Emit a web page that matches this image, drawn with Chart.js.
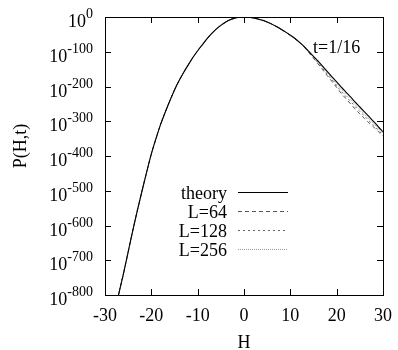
<!DOCTYPE html>
<html>
<head>
<meta charset="utf-8">
<script src="https://cdn.jsdelivr.net/npm/chart.js@4.4.1/dist/chart.umd.min.js"></script>
<style>
  body { margin: 0; background: #fff; }
  #wrap { width: 398px; height: 350px; }
</style>
</head>
<body>
<div id="wrap"><canvas id="myChart" width="398" height="350"></canvas></div>
<script>
// H values and log10 P(H,t)
const hValues = [-28, -27, -26, -25, -24, -23, -22, -21, -20, -19, -18, -17, -16, -15, -14, -13, -12, -11, -10, -9,
  -8, -7, -6, -5, -4, -3, -2, -1, 0, 1, 2, 3, 4, 5, 6, 7, 8, 9, 10, 11,
  12, 13, 14, 15, 16, 17, 18, 19, 20, 21, 22, 23, 24, 25, 26, 27, 28, 29, 30];

const theory = [-855, -795, -738, -676, -614, -556, -500, -446, -394, -350, -309, -274, -241, -210, -183, -159, -137, -116, -97, -80,
  -63, -48, -35, -24, -15, -8, -3.2, -0.8, 0, -0.6, -2.5, -5.5, -9.5, -14.5, -20.5, -27.5, -35, -43.5, -52.5, -62,
  -73, -85, -99, -113, -127, -142, -157, -172, -187, -202, -216, -230, -245, -259, -273, -287, -301, -316, -330];

const l64 = [-855, -795, -738, -676, -614, -556, -500, -446, -394, -350, -309, -274, -241, -210, -183, -159, -137, -116, -97, -80,
  -63, -48, -35, -24, -15, -8, -3.2, -0.8, 0, -0.6, -2.5, -5.5, -9.5, -14.5, -20.5, -27.5, -35, -43.5, -52.5, -62,
  -74, -87, -103, -119, -135, -152, -169, -186, -203, -220, -235, -250, -265, -279, -292, -305, -317, -330, -343];

const l128 = [-855, -795, -738, -676, -614, -556, -500, -446, -394, -350, -309, -274, -241, -210, -183, -159, -137, -116, -97, -80,
  -63, -48, -35, -24, -15, -8, -3.2, -0.8, 0, -0.6, -2.5, -5.5, -9.5, -14.5, -20.5, -27.5, -35, -43.5, -52.5, -62,
  -73.5, -86, -102, -117, -132, -148, -165, -181, -198, -214, -229, -243, -258, -272, -285, -299, -312, -326, -339];

const l256 = [-855, -795, -738, -676, -614, -556, -500, -446, -394, -350, -309, -274, -241, -210, -183, -159, -137, -116, -97, -80,
  -63, -48, -35, -24, -15, -8, -3.2, -0.8, 0, -0.6, -2.5, -5.5, -9.5, -14.5, -20.5, -27.5, -35, -43.5, -52.5, -62,
  -73, -85, -100, -115, -130, -145, -161, -177, -193, -208, -223, -237, -252, -266, -280, -293, -307, -321, -335];

const xTicks = [-30, -20, -10, 0, 10, 20, 30];
const yExponents = [0, -100, -200, -300, -400, -500, -600, -700, -800];

const seriesNames = ['theory', 'L=64', 'L=128', 'L=256'];

const FONT = '"Liberation Serif", "Times New Roman", serif';

function pts(ys) {
  return hValues.map((h, i) => ({ x: h, y: ys[i] }));
}

// frame, ticks, labels and the legend are drawn gnuplot style
const gnuplotFrame = {
  id: 'gnuplotFrame',
  afterDatasetsDraw(chart) {
    const ctx = chart.ctx;
    const a = chart.chartArea;
    const xs = chart.scales.x;
    const ys = chart.scales.y;
    ctx.save();
    ctx.strokeStyle = '#000';
    ctx.lineWidth = 1;
    ctx.setLineDash([]);
    ctx.strokeRect(a.left + 0.5, a.top + 0.5, a.right - a.left, a.bottom - a.top);

    // tick marks, inside, on all four sides
    ctx.beginPath();
    xTicks.forEach(v => {
      const px = Math.round(xs.getPixelForValue(v)) + 0.5;
      ctx.moveTo(px, a.bottom); ctx.lineTo(px, a.bottom - 6);
      ctx.moveTo(px, a.top); ctx.lineTo(px, a.top + 6);
    });
    yExponents.forEach(v => {
      const py = Math.round(ys.getPixelForValue(v)) + 0.5;
      ctx.moveTo(a.left, py); ctx.lineTo(a.left + 6, py);
      ctx.moveTo(a.right, py); ctx.lineTo(a.right - 6, py);
    });
    ctx.stroke();

    ctx.fillStyle = '#000';
    // x tick labels
    ctx.font = '18px ' + FONT;
    ctx.textAlign = 'center';
    ctx.textBaseline = 'alphabetic';
    xTicks.forEach(v => {
      ctx.fillText(String(v), xs.getPixelForValue(v), 321);
    });

    // y tick labels 10^n
    yExponents.forEach(v => {
      const py = ys.getPixelForValue(v);
      ctx.font = '14px ' + FONT;
      const sup = String(v);
      const supW = ctx.measureText(sup).width;
      const right = 93;
      ctx.textAlign = 'left';
      ctx.fillText(sup, right - supW, py + 1);
      ctx.font = '18px ' + FONT;
      const baseW = ctx.measureText('10').width;
      ctx.fillText('10', right - supW - baseW, py + 10);
    });

    // axis titles
    ctx.font = '18px ' + FONT;
    ctx.textAlign = 'center';
    ctx.fillText('H', (a.left + a.right) / 2, 348);
    ctx.save();
    ctx.translate(26, 146);
    ctx.rotate(-Math.PI / 2);
    ctx.fillText('P(H,t)', 0, 0);
    ctx.restore();

    // annotation
    ctx.textAlign = 'left';
    ctx.fillText('t=1/16', 313, 53);

    // legend
    const rows = [199, 218, 237, 256];
    chart.data.datasets.forEach((ds, i) => {
      ctx.font = '18px ' + FONT;
      ctx.textAlign = 'right';
      ctx.fillStyle = '#000';
      ctx.fillText(seriesNames[i], 227, rows[i]);
      const ly = rows[i] - 6.5;
      ctx.beginPath();
      ctx.strokeStyle = ds.borderColor;
      ctx.lineWidth = ds.borderWidth;
      ctx.setLineDash(ds.borderDash || []);
      ctx.moveTo(238, ly);
      ctx.lineTo(288, ly);
      ctx.stroke();
    });
    ctx.restore();
  }
};

new Chart(document.getElementById('myChart').getContext('2d'), {
  type: 'line',
  data: {
    datasets: [
      { label: seriesNames[0], data: pts(theory), borderColor: '#000', borderWidth: 1.1, order: 0 },
      { label: seriesNames[1], data: pts(l64), borderColor: '#555', borderWidth: 1, borderDash: [4, 3], order: 1 },
      { label: seriesNames[2], data: pts(l128), borderColor: '#666', borderWidth: 1, borderDash: [2, 3], order: 2 },
      { label: seriesNames[3], data: pts(l256), borderColor: '#999', borderWidth: 1, borderDash: [1, 1], order: 3 }
    ]
  },
  options: {
    responsive: false,
    animation: false,
    devicePixelRatio: 1,
    layout: { padding: { left: 105, right: 15, top: 17, bottom: 55 } },
    elements: { point: { radius: 0 }, line: { cubicInterpolationMode: 'monotone', fill: false } },
    plugins: { legend: { display: false }, tooltip: { enabled: false } },
    scales: {
      x: { type: 'linear', min: -30, max: 30, display: false },
      y: { type: 'linear', min: -800, max: 0, display: false }
    }
  },
  plugins: [gnuplotFrame]
});
</script>
</body>
</html>
